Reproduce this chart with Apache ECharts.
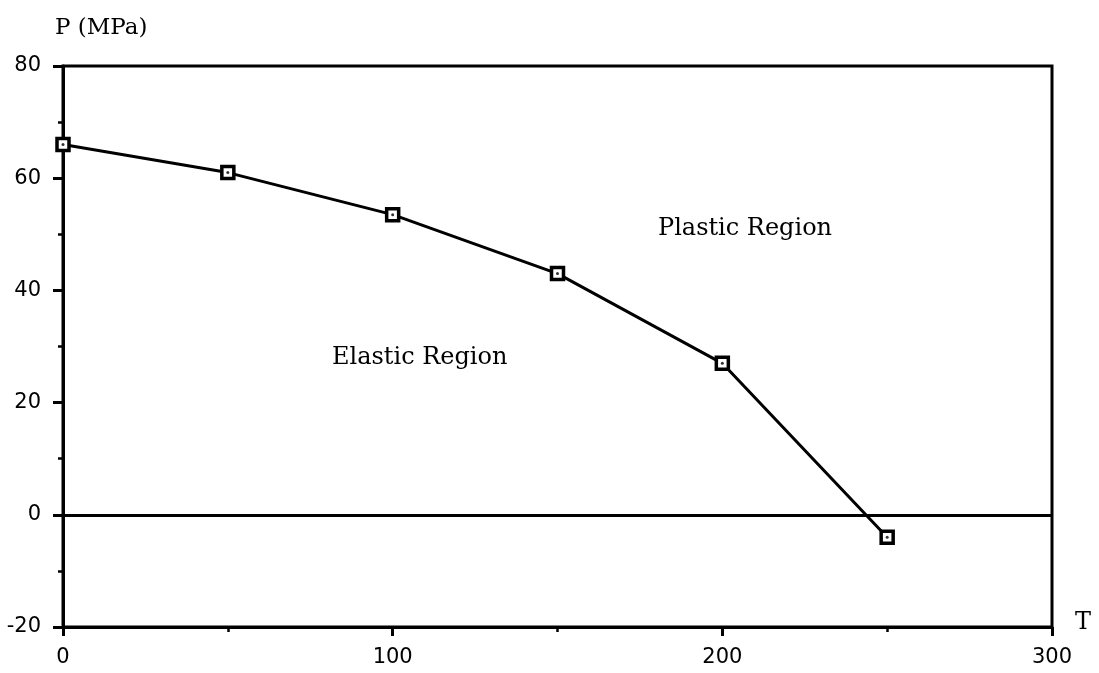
<!DOCTYPE html>
<html>
<head>
<meta charset="utf-8">
<script src="https://cdn.jsdelivr.net/npm/echarts@6/dist/echarts.min.js"></script>
<style>html,body{margin:0;padding:0;background:#fff}#c{width:1099px;height:673px}</style>
</head>
<body>
<div id="c"></div>
<script>
const tValues = [0, 50, 100, 150, 200, 250];
const pValues = [66, 61, 53.5, 43, 27, -4];
const xTicks = [0, 100, 200, 300];
const yTicks = [-20, 0, 20, 40, 60, 80];
const yTitle = 'P (MPa)';
const xTitle = 'T';
const notes = ['Plastic Region', 'Elastic Region'];

const pts = tValues.map((t, i) => [t, pValues[i]]);
const chart = echarts.init(document.getElementById('c'));
const lab = {color: '#000', fontFamily: 'DejaVu Sans', fontSize: 21};
chart.setOption({
  animation: false,
  backgroundColor: '#fff',
  grid: {left: 63, right: 47, top: 66, bottom: 46, show: true, borderColor: '#000', borderWidth: 3, backgroundColor: 'transparent'},
  xAxis: {
    type: 'value', min: xTicks[0], max: xTicks[xTicks.length - 1], interval: 100,
    axisLine: {show: true, onZero: false, lineStyle: {color: '#000', width: 3}},
    axisTick: {show: true, length: 9, lineStyle: {color: '#000', width: 3}},
    minorTick: {show: true, splitNumber: 2, length: 5, lineStyle: {color: '#000', width: 2.5}},
    splitLine: {show: false},
    axisLabel: Object.assign({margin: 20}, lab)
  },
  yAxis: {
    type: 'value', min: yTicks[0], max: yTicks[yTicks.length - 1], interval: 20,
    axisLine: {show: true, onZero: false, lineStyle: {color: '#000', width: 3}},
    axisTick: {show: true, length: 10, lineStyle: {color: '#000', width: 3}},
    minorTick: {show: true, splitNumber: 2, length: 5, lineStyle: {color: '#000', width: 2.5}},
    splitLine: {show: false},
    axisLabel: Object.assign({margin: 22}, lab)
  },
  series: [
    {
      type: 'line', data: pts, symbol: 'rect', symbolSize: 12,
      lineStyle: {color: '#000', width: 3},
      itemStyle: {color: '#fff', borderColor: '#000', borderWidth: 3.5},
      z: 3,
      markLine: {silent: true, symbol: 'none', label: {show: false},
        lineStyle: {color: '#000', width: 3, type: 'solid'}, data: [{yAxis: 0}]}
    },
    {
      type: 'scatter', data: pts, symbol: 'circle', symbolSize: 3,
      itemStyle: {color: '#000'}, z: 4
    }
  ],
  graphic: [
    {type: 'text', left: 55, top: 17, style: {text: yTitle, font: '23px "DejaVu Serif"', fill: '#000'}},
    {type: 'text', left: 1075, top: 611, style: {text: xTitle, font: '24px "DejaVu Serif"', fill: '#000'}},
    {type: 'text', left: 658, top: 217, style: {text: notes[0], font: '24px "DejaVu Serif"', fill: '#000'}},
    {type: 'text', left: 332, top: 346, style: {text: notes[1], font: '24px "DejaVu Serif"', fill: '#000'}}
  ]
});
</script>
</body>
</html>
